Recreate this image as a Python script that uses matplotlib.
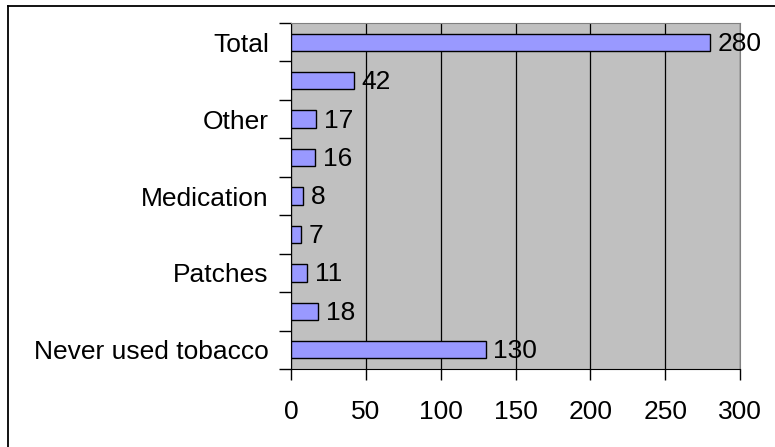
import numpy as np
import matplotlib
matplotlib.use('Agg')
import matplotlib.pyplot as plt
from matplotlib.lines import Line2D

plt.rcParams['font.family'] = ['Liberation Sans', 'DejaVu Sans']

# categories bottom to top; only every other label is printed on the axis
categories = ['Never used tobacco', '', 'Patches', '', 'Medication', '', 'Other', '', 'Total']
values = [130, 18, 11, 7, 8, 16, 17, 42, 280]
xticks = [0, 50, 100, 150, 200, 250, 300]

fs = 19

fig = plt.figure(figsize=(7.75, 4.47), dpi=100)
fig.patch.set_facecolor('white')

# outer chart frame (top and left edges only show)
fx, fy = 7.5 / 775, 1 - 5.5 / 447
fig.add_artist(Line2D([fx, 1], [fy, fy], transform=fig.transFigure, color='black', linewidth=1.3))
fig.add_artist(Line2D([fx, fx], [0, fy], transform=fig.transFigure, color='black', linewidth=1.3))

ax = fig.add_axes([291 / 775, 1 - 369 / 447, 449 / 775, 346 / 447])
ax.set_facecolor('#C0C0C0')

y = np.arange(len(categories))
bars = ax.barh(y, values, height=0.45, color='#9999FF', edgecolor='black',
               linewidth=1, zorder=3)

for b, v in zip(bars, values):
    ax.annotate(str(v), (b.get_width(), b.get_y() + b.get_height() / 2),
                xytext=(5.5, -1), textcoords='offset points', ha='left', va='center',
                fontsize=fs, zorder=4, annotation_clip=False)

ax.set_xlim(0, 300)
ax.set_ylim(-0.5, len(categories) - 0.5)
ax.set_xticks(xticks)
ax.set_xticklabels([str(t) for t in xticks])
ax.xaxis.grid(True, color='black', linewidth=0.9, zorder=1)
ax.set_axisbelow(True)

# tick marks sit between categories, labels at the centres
ax.set_yticks(np.arange(-0.5, len(categories), 1))
ax.set_yticklabels([])
ax.set_yticks(y, minor=True)
ax.set_yticklabels(categories, minor=True, fontsize=fs)
ax.tick_params(axis='y', which='major', length=9, width=1, direction='out')
ax.tick_params(axis='y', which='minor', length=0, pad=16)
ax.tick_params(axis='x', length=8, width=1, direction='out', labelsize=fs, pad=14)

for s in ['top', 'right']:
    ax.spines[s].set_color('#808080')
for s in ['left', 'bottom']:
    ax.spines[s].set_color('black')

fig.savefig('out.png', dpi=100)
